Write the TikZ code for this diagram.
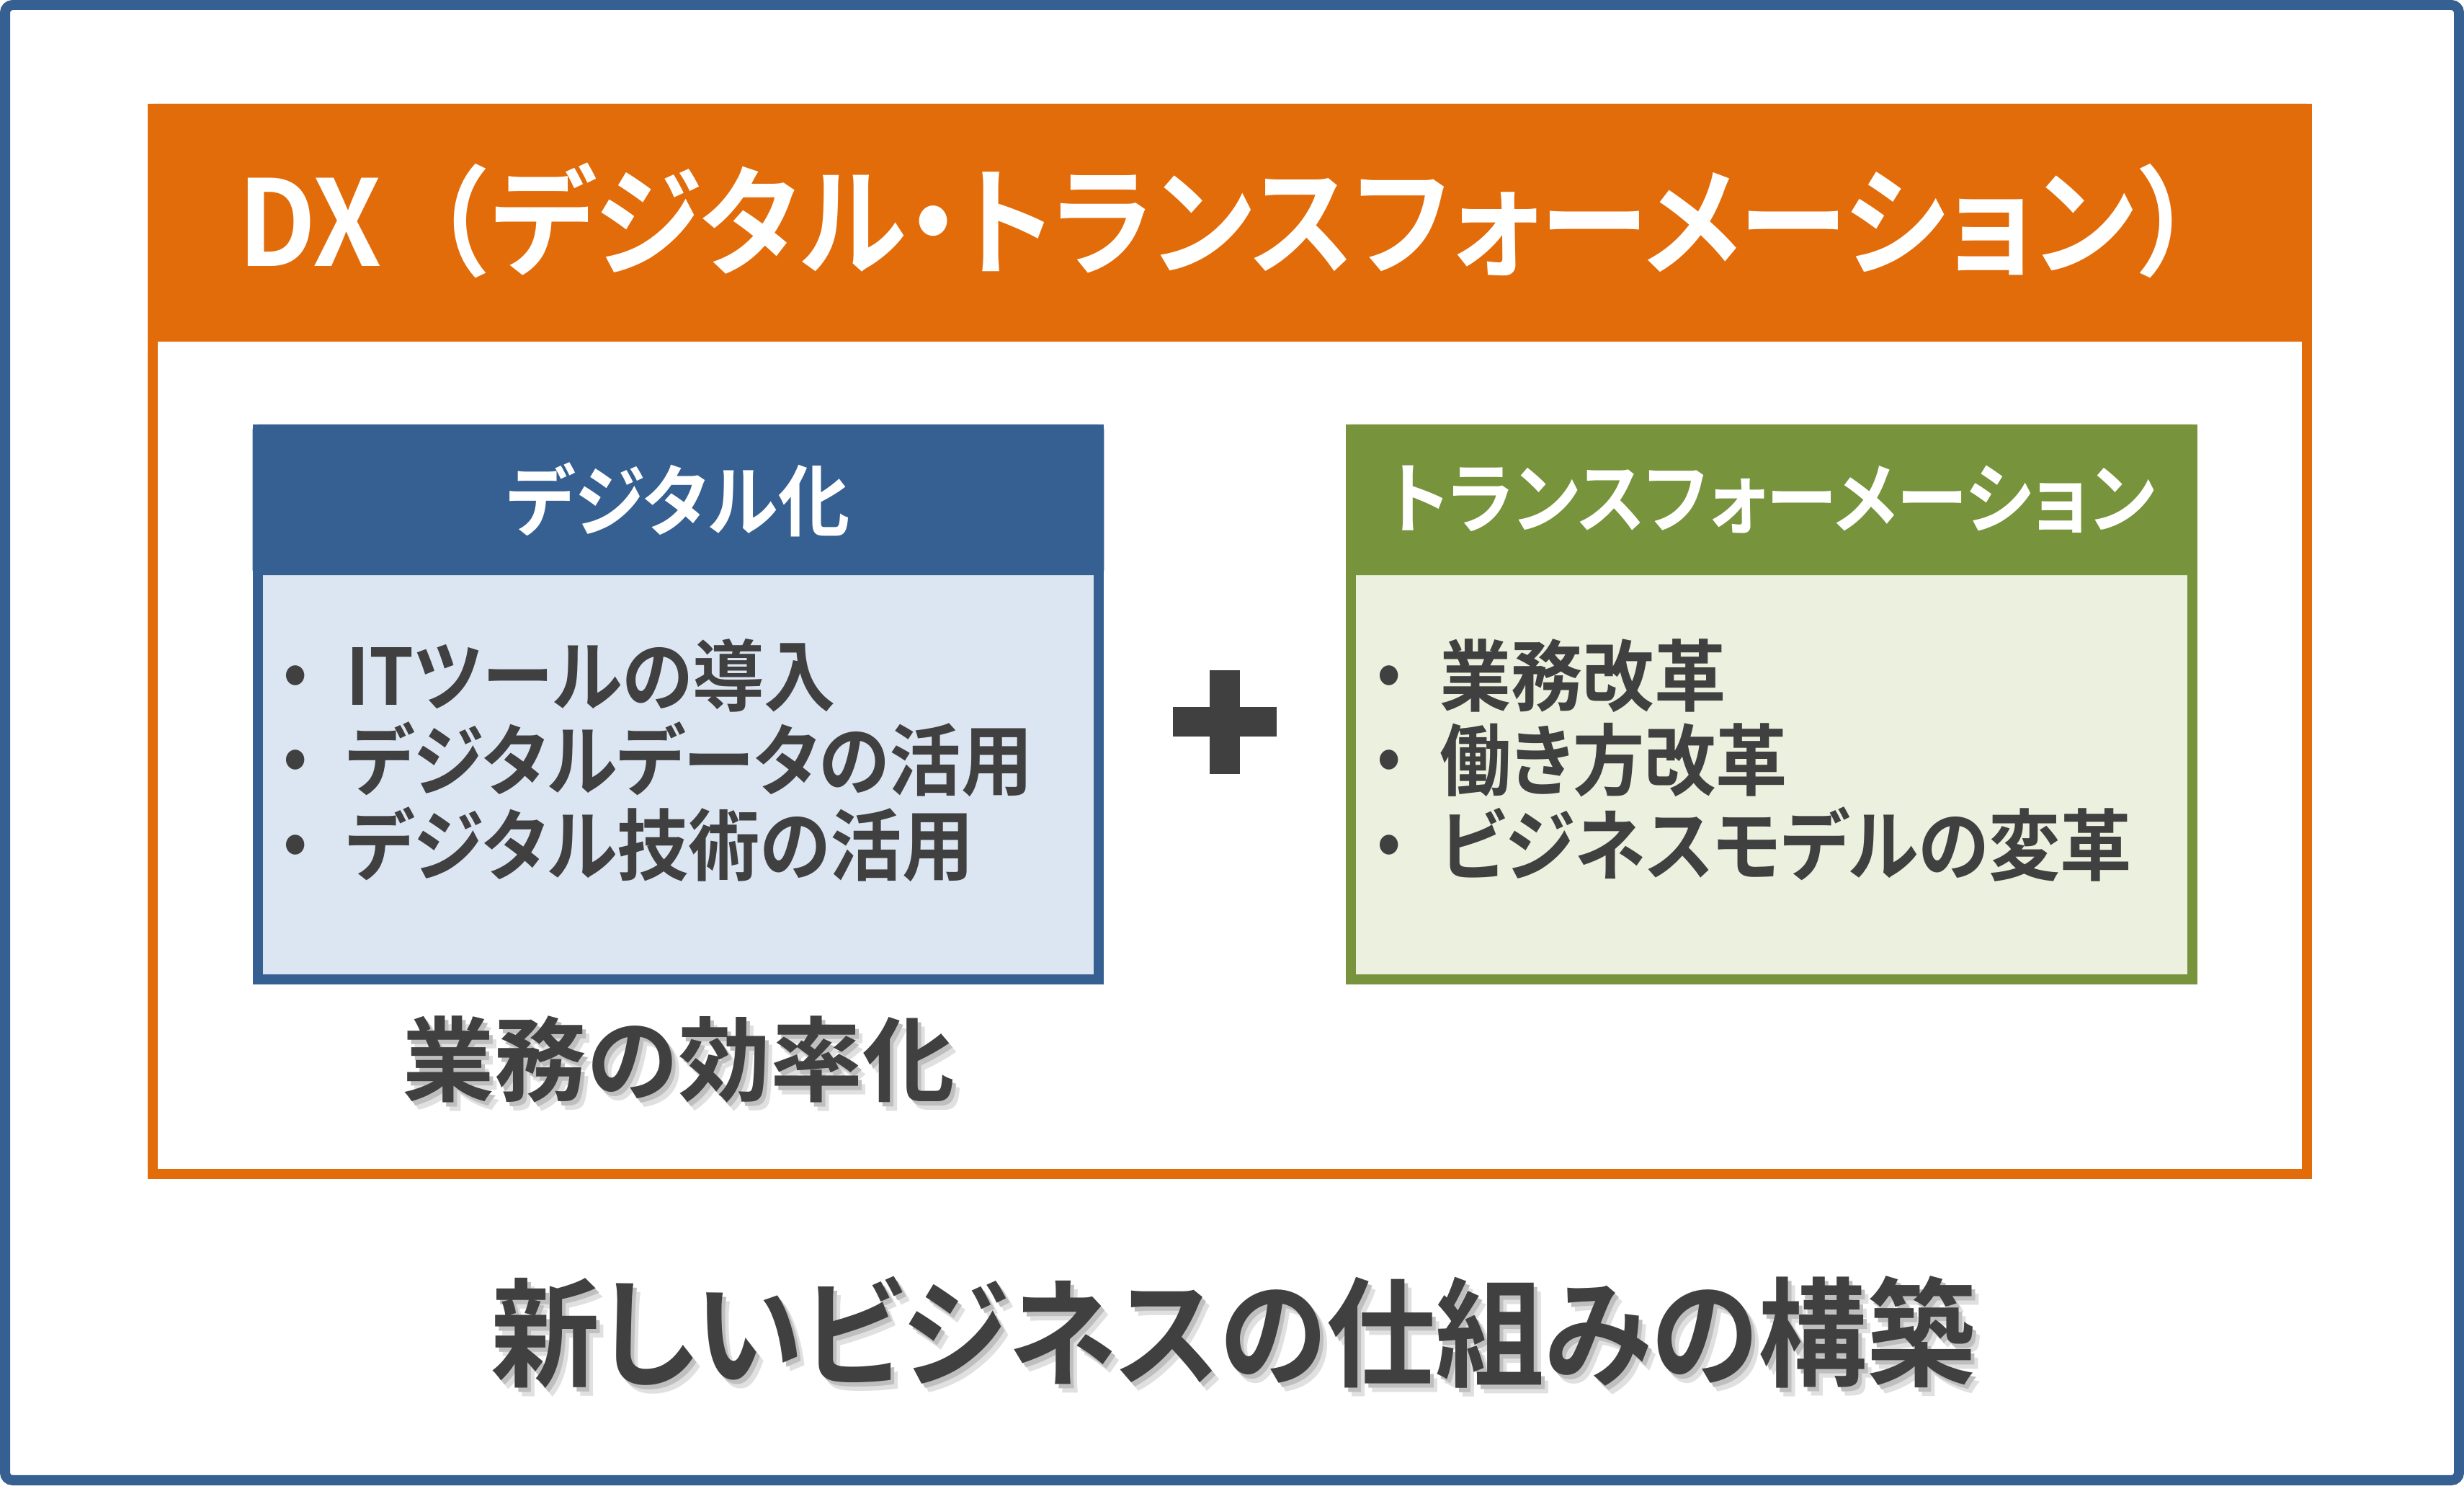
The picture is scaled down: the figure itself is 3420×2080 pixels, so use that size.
\documentclass[tikz,border=0pt]{standalone}
\usepackage{fontspec}
\usepackage{xcolor}
\usepackage{tikz}
\usetikzlibrary{positioning}
\newfontfamily\jp[RawFeature=+palt, FakeStretch=0.92]{Noto Sans CJK JP Bold}
\newfontfamily\jpw[RawFeature=+palt]{Noto Sans CJK JP Bold}
\newfontfamily\jpfw[FakeStretch=0.92]{Noto Sans CJK JP Bold}
\definecolor{dxBlue}{HTML}{366092}
\definecolor{dxLightBlue}{HTML}{DCE6F2}
\definecolor{dxOrange}{HTML}{E36C0A}
\definecolor{dxGreen}{HTML}{77933C}
\definecolor{dxLightGreen}{HTML}{EBF1DE}
\definecolor{dxGray}{HTML}{404040}
\newcommand{\bul}{\makebox[1.39cm][c]{・}}
\newcommand{\shadowed}[1]{%
  \makebox[0pt][l]{\hspace{0.10cm}\raisebox{-0.12cm}{\textcolor{black!12}{#1}}}%
  \makebox[0pt][l]{\hspace{0.05cm}\raisebox{-0.06cm}{\textcolor{black!25}{#1}}}#1}

\begin{document}
\begin{tikzpicture}[x=0.01cm, y=-0.01cm,
  every node/.style={inner sep=0pt, outer sep=0pt, text=dxGray},
  dxframe/.style={draw=dxOrange, line width=0.14cm, fill=white,
             minimum width=29.88cm, minimum height=14.78cm},
  dxhead/.style={fill=dxOrange, rounded corners=2pt,
             minimum width=30.02cm, minimum height=3.30cm},
  bodybox/.style={draw=#1, line width=0.14cm,
             minimum width=11.67cm, minimum height=7.63cm},
  headbox/.style={fill=#1, rounded corners=2pt, text=white,
             minimum width=11.81cm, minimum height=2.09cm,
             font=\jp\fontsize{30.7}{33}\selectfont},
  itemlist/.style={align=left, font=\jp\fontsize{30.7}{33.4}\selectfont},
  result/.style={font=\fontsize{#1}{#1}\selectfont},
]
\useasboundingbox (0,0) rectangle (3420,2080);

% outer frame
\draw[dxBlue, line width=0.14cm, rounded corners=3pt] (7,7) rectangle (3413,2054);

% DX box
\node[dxframe] (dx) at (1707,890) {};
\node[dxhead, anchor=north] (dxhead) at (1707,144) {};
\node[anchor=base west, text=white, font=\jp\fontsize{47}{50}\selectfont] (dxtitle) at (330,370)
  {DX{\jpfw （}デジタル・トランスフォーメーション{\jpfw ）}};

% digitization
\node[bodybox=dxBlue, fill=dxLightBlue] (digbody) at (941.5,977.5) {};
\node[headbox=dxBlue, anchor=north] (dighead) at (941.5,589) {デジタル化};
\node[itemlist, anchor=west] (digitems) at (341,1055)
  {\bul ITツールの導入\\ \bul デジタルデータの活用\\ \bul デジタル技術の活用};

% transformation
\node[bodybox=dxGreen, fill=dxLightGreen] (trbody) at (2459,977.5) {};
\node[headbox=dxGreen, anchor=north] (trhead) at (2459,589) {トランスフォーメーション};
\node[itemlist, anchor=west] (tritems) at (1859,1055)
  {\bul 業務改革\\ \bul 働き方改革\\ \bul ビジネスモデルの変革};

% plus
\fill[dxGray] (1628,981) rectangle (1772,1022);
\fill[dxGray] (1679,930) rectangle (1721,1074);

% results
\node[result=36.4] (effic) at (942,1476) {\jpw\shadowed{業務の効率化}};
\node[result=46.7] (newbiz) at (1712,1855) {\jp\shadowed{新しいビジネスの仕組みの構築}};

\end{tikzpicture}
\end{document}
